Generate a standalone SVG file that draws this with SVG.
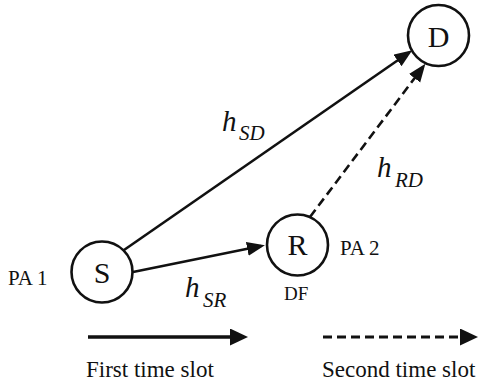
<svg xmlns="http://www.w3.org/2000/svg" width="478" height="382" viewBox="0 0 478 382">
<defs>
<style>
.node{fill:#fff;stroke:#111;stroke-width:2.6}
.nl{font-family:"Liberation Serif","Times New Roman",serif;font-size:30px;fill:#111;text-anchor:middle}
.lbl{font-family:"Liberation Serif","Times New Roman",serif;font-size:21px;fill:#111}
.h{font-family:"Liberation Serif","Times New Roman",serif;font-style:italic;fill:#111}
.e{fill:none;stroke:#111;stroke-width:2.6}
.d{stroke-dasharray:9 5}
.leg{font-family:"Liberation Serif","Times New Roman",serif;font-size:23px;fill:#111}
</style>
<marker id="ah" markerUnits="userSpaceOnUse" markerWidth="20" markerHeight="16" refX="14" refY="7" orient="auto">
<path d="M0,0 L18,7 L0,14 z" fill="#111"/>
</marker>
<marker id="ahL" markerUnits="userSpaceOnUse" markerWidth="20" markerHeight="18" refX="14" refY="8.5" orient="auto">
<path d="M0,0 L18,8.5 L0,17 z" fill="#111"/>
</marker>
</defs>
<g id="connectors">
<line class="e" x1="124" y1="250" x2="409" y2="52.5" marker-end="url(#ah)"/>
<line class="e" x1="133" y1="272" x2="261" y2="246" marker-end="url(#ah)"/>
<line class="e d" x1="310" y1="217" x2="423" y2="67" marker-end="url(#ah)"/>
</g>
<g id="node-S">
<circle class="node" cx="102" cy="272" r="30.5"/>
<text class="nl" x="102" y="283">S</text>
</g>
<g id="node-R">
<circle class="node" cx="297.5" cy="245" r="30.5"/>
<text class="nl" x="297.5" y="255">R</text>
</g>
<g id="node-D">
<circle class="node" cx="438.5" cy="35.5" r="30.5"/>
<text class="nl" x="438.5" y="47">D</text>
</g>
<g id="labels">
<text class="lbl" x="8" y="285">PA 1</text>
<text class="lbl" x="340" y="255">PA 2</text>
<text class="lbl" x="284" y="300" style="font-size:19px">DF</text>
<text class="h" x="222" y="131" font-size="29">h<tspan font-size="21" x="239" y="140">SD</tspan></text>
<text class="h" x="377" y="177" font-size="29">h<tspan font-size="21" x="395" y="187">RD</tspan></text>
<text class="h" x="185" y="297" font-size="29">h<tspan font-size="21" x="203" y="307">SR</tspan></text>
</g>
<g id="legend">
<line class="e" x1="88" y1="337" x2="244" y2="337" style="stroke-width:3.5" marker-end="url(#ahL)"/>
<line class="e d" x1="323" y1="337" x2="474" y2="337" style="stroke-width:3" marker-end="url(#ahL)"/>
<text class="leg" x="86" y="377">First time slot</text>
<text class="leg" x="322" y="377">Second time slot</text>
</g>
</svg>
